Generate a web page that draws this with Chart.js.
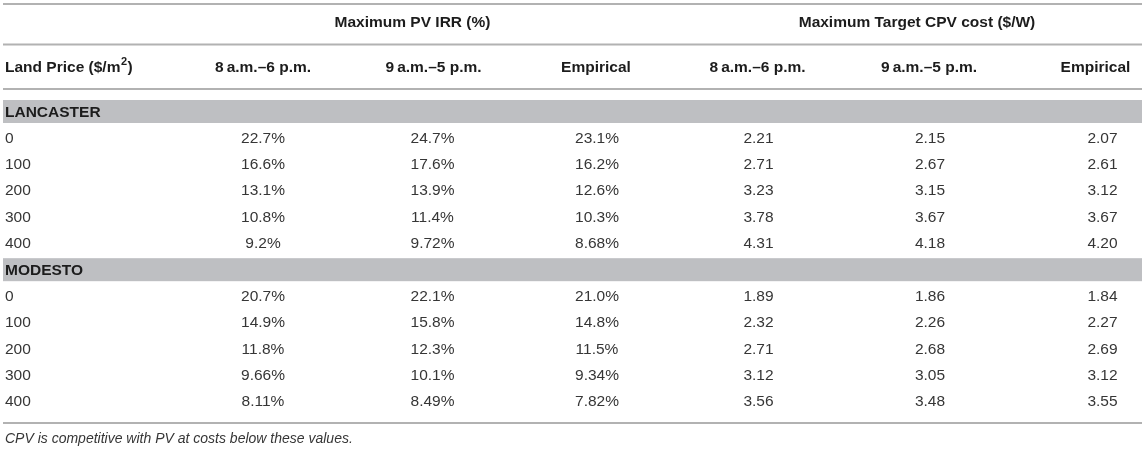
<!DOCTYPE html>
<html><head><meta charset="utf-8">
<script src="https://cdn.jsdelivr.net/npm/chart.js@4.4.1/dist/chart.umd.min.js"></script>
<style>html,body{margin:0;padding:0;background:#fff}#wrap{width:1145px;height:451px;position:relative}</style>
</head><body><div id="wrap"><canvas id="c"></canvas></div>
<script>
// ---- data ----
const groupHeaders = ['Maximum PV IRR (%)', 'Maximum Target CPV cost ($/W)'];
const columnLabels = ['8\u2009a.m.\u20136 p.m.', '9\u2009a.m.\u20135 p.m.', 'Empirical',
                      '8\u2009a.m.\u20136 p.m.', '9\u2009a.m.\u20135 p.m.', 'Empirical'];
const columnKeys = ['irr8to6', 'irr9to5', 'irrEmp', 'cost8to6', 'cost9to5', 'costEmp'];
const rowHeader = 'Land Price ($/m';
const sites = ['LANCASTER', 'MODESTO'];
const landPrices = ['0', '100', '200', '300', '400'];

const lancasterIrr8to6 = ['22.7%', '16.6%', '13.1%', '10.8%', '9.2%'];
const lancasterIrr9to5 = ['24.7%', '17.6%', '13.9%', '11.4%', '9.72%'];
const lancasterIrrEmp  = ['23.1%', '16.2%', '12.6%', '10.3%', '8.68%'];
const lancasterCost8to6 = ['2.21', '2.71', '3.23', '3.78', '4.31'];
const lancasterCost9to5 = ['2.15', '2.67', '3.15', '3.67', '4.18'];
const lancasterCostEmp  = ['2.07', '2.61', '3.12', '3.67', '4.20'];

const modestoIrr8to6 = ['20.7%', '14.9%', '11.8%', '9.66%', '8.11%'];
const modestoIrr9to5 = ['22.1%', '15.8%', '12.3%', '10.1%', '8.49%'];
const modestoIrrEmp  = ['21.0%', '14.8%', '11.5%', '9.34%', '7.82%'];
const modestoCost8to6 = ['1.89', '2.32', '2.71', '3.12', '3.56'];
const modestoCost9to5 = ['1.86', '2.26', '2.68', '3.05', '3.48'];
const modestoCostEmp  = ['1.84', '2.27', '2.69', '3.12', '3.55'];

const footnote = 'CPV is competitive with PV at costs below these values.';

// ---- build ----
const siteColumns = {
  LANCASTER: [lancasterIrr8to6, lancasterIrr9to5, lancasterIrrEmp, lancasterCost8to6, lancasterCost9to5, lancasterCostEmp],
  MODESTO: [modestoIrr8to6, modestoIrr9to5, modestoIrrEmp, modestoCost8to6, modestoCost9to5, modestoCostEmp]
};
const rowKeys = [];
sites.forEach(s => { rowKeys.push(s); landPrices.forEach(p => rowKeys.push(s + '|' + p)); });

const datasets = [];
sites.forEach(s => {
  siteColumns[s].forEach((vals, c) => {
    datasets.push({
      label: s + ' ' + columnKeys[c],
      data: vals.map((v, i) => ({ x: columnKeys[c], y: s + '|' + landPrices[i], text: v })),
      pointRadius: 0, showLine: false
    });
  });
});

const FONT = '"Liberation Sans", Arial, Helvetica, sans-serif';
const TEXT = '#363636', BOLD = '#1c1c1c', RULE = '#b2b2b2', BAND = '#bebfc2';
// small per-column nudges of the value text (style only)
const valueNudge = [0, 3, 1, -4, 1, 7];

const tablePlugin = {
  id: 'tableDraw',
  beforeDatasetsDraw(chart) {
    const { ctx, chartArea: a, scales: { x, y } } = chart;
    const W = chart.width;
    ctx.save();
    // rules
    ctx.strokeStyle = RULE; ctx.lineWidth = 2;
    [a.top - 108, a.top - 67.5, a.top - 23, a.bottom + 21].forEach(py => {
      ctx.beginPath(); ctx.moveTo(3, py); ctx.lineTo(W - 3, py); ctx.stroke();
    });
    // site bands + labels
    sites.forEach(s => {
      const py = y.getPixelForValue(rowKeys.indexOf(s));
      ctx.fillStyle = BAND; ctx.fillRect(3, py - 12, W - 6, 23);
      ctx.fillStyle = BOLD; ctx.font = 'bold 15.5px ' + FONT;
      ctx.textAlign = 'left'; ctx.textBaseline = 'middle';
      ctx.fillText(s, 5, py + 0.5);
      landPrices.forEach(p => {
        const ry = y.getPixelForValue(rowKeys.indexOf(s + '|' + p));
        ctx.fillStyle = TEXT; ctx.font = '15.5px ' + FONT;
        ctx.fillText(p, 5, ry);
      });
    });
    // column headers
    ctx.textBaseline = 'middle';
    ctx.font = 'bold 15.5px ' + FONT; ctx.fillStyle = BOLD;
    columnKeys.forEach((k, c) => {
      ctx.textAlign = 'center';
      ctx.fillText(columnLabels[c], x.getPixelForValue(c) + (c === 1 ? 4 : c === 3 ? -5 : 0), a.top - 44);
    });
    // land price header with superscript
    ctx.textAlign = 'left';
    let hx = 5; const hy = a.top - 44;
    ctx.fillText(rowHeader, hx, hy); hx += ctx.measureText(rowHeader).width;
    ctx.font = 'bold 11px ' + FONT; ctx.fillText('2', hx + 0.5, hy - 6); hx += ctx.measureText('2').width + 1;
    ctx.font = 'bold 15.5px ' + FONT; ctx.fillText(')', hx, hy);
    // group headers
    ctx.textAlign = 'center';
    const g1 = (x.getPixelForValue(0) + x.getPixelForValue(2)) / 2 - 17;
    const g2 = (x.getPixelForValue(3) + x.getPixelForValue(5)) / 2 - 12;
    ctx.fillText(groupHeaders[0], g1, a.top - 89);
    ctx.fillText(groupHeaders[1], g2, a.top - 89);
    // footnote
    ctx.textAlign = 'left'; ctx.font = 'italic 14px ' + FONT; ctx.fillStyle = TEXT;
    ctx.fillText(footnote, 5, a.bottom + 37);
    ctx.restore();
  },
  afterDatasetsDraw(chart) {
    const ctx = chart.ctx;
    ctx.save();
    ctx.font = '15.5px ' + FONT; ctx.fillStyle = TEXT;
    ctx.textAlign = 'center'; ctx.textBaseline = 'middle';
    chart.data.datasets.forEach((ds, di) => {
      const meta = chart.getDatasetMeta(di);
      meta.data.forEach((el, i) => {
        const c = columnKeys.indexOf(ds.data[i].x);
        ctx.fillText(ds.data[i].text, el.x + valueNudge[c], el.y);
      });
    });
    ctx.restore();
  }
};

new Chart(document.getElementById('c'), {
  type: 'scatter',
  data: { datasets },
  options: {
    responsive: true, maintainAspectRatio: false, animation: false,
    layout: { padding: { left: 263, right: 49.5, top: 112, bottom: 49 } },
    plugins: { legend: { display: false }, tooltip: { enabled: false } },
    scales: {
      x: { type: 'category', labels: columnKeys, offset: false, display: false },
      y: { type: 'category', labels: rowKeys, offset: false, display: false }
    }
  },
  plugins: [tablePlugin]
});
</script></body></html>
